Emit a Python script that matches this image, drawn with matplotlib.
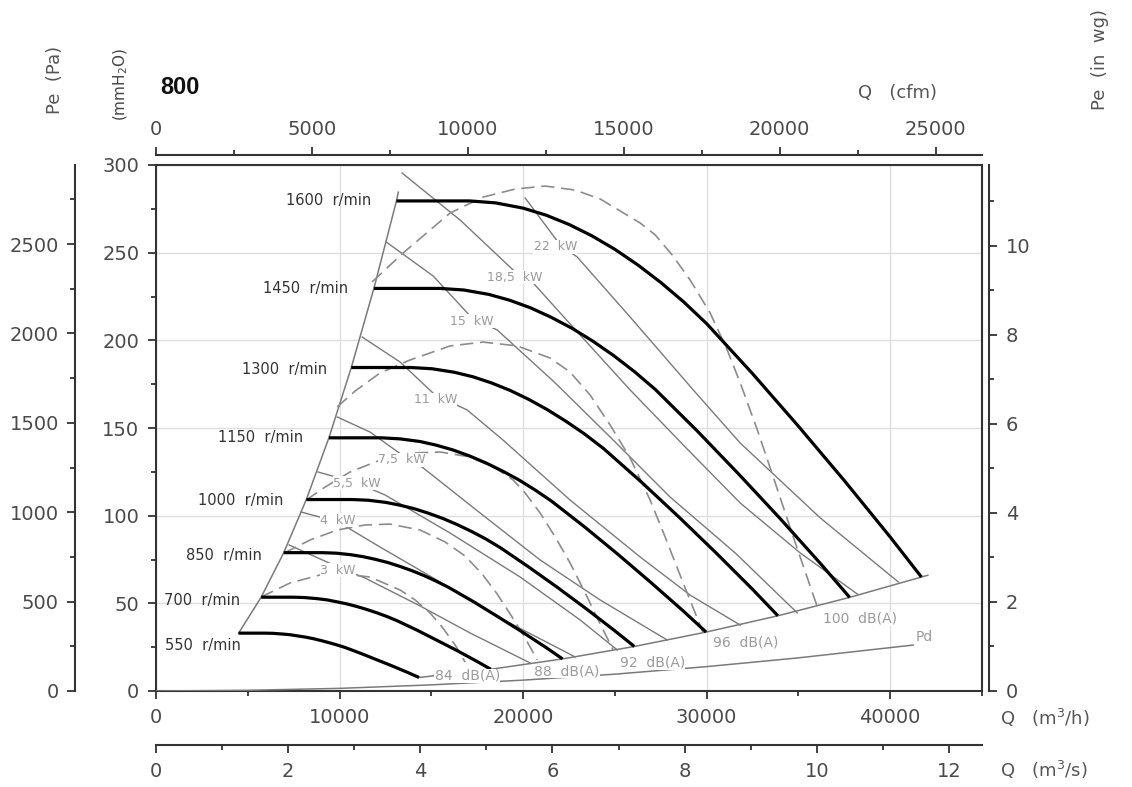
import numpy as np
import matplotlib
matplotlib.use("Agg")
import matplotlib.pyplot as plt
from matplotlib.ticker import MultipleLocator

# ---- fan curves: Q (m3/h) vs Pe (mmH2O), one pair per speed ----
q1600 = [13100, 17100, 18500, 20000, 21250, 22500, 23750, 25000, 26250, 27500, 28750, 30000, 32500, 35000, 37500, 40000, 41700]
p1600 = [279.5, 279.5, 278.4, 275.4, 271.4, 266.1, 259.6, 251.9, 243.0, 233.0, 221.9, 209.5, 181.0, 151.0, 120.0, 87.8, 65.0]
q1450 = [11870, 15500, 16770, 18130, 19260, 20390, 21520, 22660, 23790, 24920, 26060, 27190, 29450, 31720, 33980, 36250, 37790]
p1450 = [229.6, 229.6, 228.7, 226.2, 222.9, 218.6, 213.2, 206.9, 199.6, 191.4, 182.2, 172.1, 148.7, 124.0, 98.6, 72.1, 53.4]
q1300 = [10640, 13890, 15030, 16250, 17270, 18280, 19300, 20310, 21330, 22340, 23360, 24380, 26410, 28440, 30470, 32500, 33880]
p1300 = [184.5, 184.5, 183.8, 181.8, 179.2, 175.7, 171.4, 166.3, 160.4, 153.8, 146.5, 138.3, 119.5, 99.7, 79.2, 58.0, 42.9]
q1150 = [9420, 12290, 13300, 14380, 15270, 16170, 17070, 17970, 18870, 19770, 20660, 21560, 23360, 25160, 26950, 28750, 29970]
p1150 = [144.4, 144.4, 143.8, 142.3, 140.2, 137.5, 134.1, 130.1, 125.5, 120.4, 114.6, 108.2, 93.5, 78.0, 62.0, 45.4, 33.6]
q1000 = [8190, 10690, 11560, 12500, 13280, 14060, 14840, 15630, 16410, 17190, 17970, 18750, 20310, 21880, 23440, 25000, 26060]
p1000 = [109.2, 109.2, 108.8, 107.6, 106.0, 104.0, 101.4, 98.4, 94.9, 91.0, 86.7, 81.8, 70.7, 59.0, 46.9, 34.3, 25.4]
q850 = [6960, 9080, 9830, 10630, 11290, 11950, 12620, 13280, 13950, 14610, 15270, 15940, 17270, 18590, 19920, 21250, 22150]
p850 = [78.9, 78.9, 78.6, 77.7, 76.6, 75.1, 73.3, 71.1, 68.6, 65.8, 62.6, 59.1, 51.1, 42.6, 33.9, 24.8, 18.3]
q700 = [5730, 7480, 8090, 8750, 9300, 9840, 10390, 10940, 11480, 12030, 12580, 13130, 14220, 15310, 16410, 17500, 18240]
p700 = [53.5, 53.5, 53.3, 52.7, 52.0, 50.9, 49.7, 48.2, 46.5, 44.6, 42.5, 40.1, 34.7, 28.9, 23.0, 16.8, 12.4]
q550 = [4500, 5880, 6360, 6880, 7300, 7730, 8160, 8590, 9020, 9450, 9880, 10310, 11170, 12030, 12890, 13750, 14330]
p550 = [33.0, 33.0, 32.9, 32.5, 32.1, 31.4, 30.7, 29.8, 28.7, 27.5, 26.2, 24.8, 21.4, 17.8, 14.2, 10.4, 7.7]

rpm = [1600, 1450, 1300, 1150, 1000, 850, 700, 550]
rpm_lab_q = [11720, 10460, 9320, 8010, 6920, 5780, 4580, 4630]
rpm_lab_p = [279.5, 229.3, 183.6, 144.3, 108.9, 77.0, 51.9, 26.2]

# limits of the working area
left_q = [4500, 5730, 6960, 8190, 9420, 10640, 11870, 13100, 13200]
left_p = [33.0, 53.5, 78.9, 109.2, 144.4, 184.5, 229.6, 279.5, 284.5]
sys_q = [14330, 18240, 22150, 26060, 29970, 33880, 37790, 41700, 42050]
sys_p = [7.7, 12.4, 18.3, 25.4, 33.6, 42.9, 53.4, 65.0, 66.0]

# dynamic pressure
pd_q = [0, 5000, 10000, 15000, 20000, 25000, 30000, 35000, 41250]
pd_p = [0, 0.4, 1.5, 3.5, 6.2, 9.6, 13.9, 18.9, 26.2]

# motor power lines
kw3_q = [7250, 9920, 11390, 14390, 17110, 20380]
kw3_p = [83.3, 70.7, 64.4, 48.5, 33.1, 16.0]
kw4_q = [7900, 9920, 12210, 15480, 18750, 22840]
kw4_p = [102.1, 96.4, 82.1, 62.2, 41.6, 19.4]
kw55_q = [8830, 10960, 12480, 16020, 19840, 23110, 25130]
kw55_p = [124.9, 118.6, 111.8, 90.1, 65.0, 40.5, 23.4]
kw75_q = [9870, 11660, 13410, 14500, 17660, 20930, 24200, 27850]
kw75_p = [156.3, 147.7, 134.6, 127.7, 101.5, 74.7, 51.9, 29.1]
kw11_q = [11230, 13300, 15210, 16950, 18910, 22560, 26380, 29100, 31830]
kw11_p = [201.9, 187.6, 168.8, 160.3, 143.1, 108.9, 76.4, 54.7, 37.6]
kw15_q = [12540, 15100, 17220, 18590, 21750, 24910, 28010, 31560, 34940]
kw15_p = [256.1, 236.7, 212.7, 205.9, 175.7, 143.1, 110.6, 78.7, 44.5]
kw185_q = [13410, 16570, 19570, 20550, 23110, 25830, 28830, 31830, 35100, 38210]
kw185_p = [295.4, 268.6, 239.0, 232.7, 203.0, 171.7, 139.2, 107.2, 78.7, 55.3]
kw22_q = [20110, 22020, 22950, 25830, 29270, 31830, 36190, 40440]
kw22_p = [281.2, 254.4, 247.5, 213.3, 171.7, 141.4, 98.7, 62.2]

kw_labels = ['3  kW', '4  kW', '5,5  kW', '7,5  kW', '11  kW', '15  kW', '18,5  kW', '22  kW']
kw_lab_q = [9920, 9920, 10960, 13410, 15210, 17220, 19570, 21750]
kw_lab_p = [69.0, 97.5, 118.6, 131.8, 166.0, 211.0, 236.1, 253.3]

# noise lines
db84_q = [5720, 7300, 8940, 10300, 11660, 13300, 14120, 14930, 15590, 16300, 16840]
db84_p = [53.6, 61.6, 66.2, 66.7, 65.0, 57.6, 51.9, 44.5, 36.5, 26.2, 16.5]
db88_q = [6980, 8390, 9870, 11390, 12750, 14390, 15750, 16840, 17770, 18590, 19400, 20110, 20770]
db88_p = [78.7, 86.1, 91.8, 94.7, 95.2, 91.8, 85.0, 77.0, 66.7, 55.3, 42.2, 30.2, 17.7]
db92_q = [8180, 9210, 10570, 12210, 13840, 15480, 17110, 18480, 19460, 20110, 20930, 21750, 22560, 23490, 24200, 24910]
db92_p = [108.9, 116.3, 124.9, 131.7, 135.7, 136.3, 133.5, 127.2, 120.3, 112.9, 101.5, 87.8, 73.0, 53.6, 38.2, 23.4]
db96_q = [9870, 10850, 12210, 13840, 16020, 17820, 19680, 21470, 22560, 23650, 24740, 25830, 26920, 27740, 28720, 29810]
db96_p = [162.0, 171.1, 181.4, 188.8, 196.8, 199.0, 196.8, 189.9, 181.9, 168.8, 151.7, 132.9, 108.9, 87.8, 61.6, 33.1]
db100_q = [11770, 13460, 16020, 17820, 19570, 21200, 22840, 24200, 26380, 27200, 28120, 29100, 30190,
           31120, 31830, 32760, 33630, 34720, 36030]
db100_p = [233.3, 249.8, 272.6, 281.7, 286.3, 288.0, 285.7, 280.6, 266.9, 260.1, 248.7, 234.4, 215.6,
           194.5, 175.7, 148.9, 122.0, 87.8, 47.9]

db_labels = ['84  dB(A)', '88  dB(A)', '92  dB(A)', '96  dB(A)', '100  dB(A)', 'Pd']
db_lab_q = [16950, 22400, 27030, 32100, 38370, 41860]
db_lab_p = [8.6, 11.4, 16.0, 27.4, 41.1, 30.8]

W, H = 1132, 787
fig = plt.figure(figsize=(W / 100, H / 100), dpi=100)
ax = fig.add_axes([156 / W, 96 / H, 826 / W, 526 / H])

axc = '#333333'
thin = '#7a7a7a'
txtc = '#4a4a4a'

speeds = [(q1600, p1600), (q1450, p1450), (q1300, p1300), (q1150, p1150),
          (q1000, p1000), (q850, p850), (q700, p700), (q550, p550)]
for q, p in speeds:
    ax.plot(q, p, color='black', lw=2.3, solid_capstyle='butt', solid_joinstyle='round', zorder=4)

ax.plot(left_q, left_p, color=thin, lw=1.1, zorder=3)
ax.plot(sys_q, sys_p, color=thin, lw=1.1, zorder=3)
ax.plot(pd_q, pd_p, color=thin, lw=1.1, zorder=3)

for q, p in [(kw3_q, kw3_p), (kw4_q, kw4_p), (kw55_q, kw55_p), (kw75_q, kw75_p),
             (kw11_q, kw11_p), (kw15_q, kw15_p), (kw185_q, kw185_p), (kw22_q, kw22_p)]:
    ax.plot(q, p, color=thin, lw=1.0, zorder=3)

for q, p in [(db84_q, db84_p), (db88_q, db88_p), (db92_q, db92_p),
             (db96_q, db96_p), (db100_q, db100_p)]:
    ax.plot(q, p, color='#8c8c8c', lw=1.2, dashes=(8, 4), zorder=3)

bb = dict(facecolor='white', edgecolor='none', pad=0.3)
for n, xq, yp in zip(rpm, rpm_lab_q, rpm_lab_p):
    ax.text(xq, yp, f'{n}  r/min', ha='right', va='center', fontsize=10.5, color='#333333', zorder=6)
for s, xq, yp in zip(kw_labels, kw_lab_q, kw_lab_p):
    ax.text(xq, yp, s, ha='center', va='center', fontsize=9, color='#9a9a9a', bbox=bb, zorder=6)
for s, xq, yp in zip(db_labels, db_lab_q, db_lab_p):
    ax.text(xq, yp, s, ha='center', va='center', fontsize=10, color='#9a9a9a', bbox=bb, zorder=6)

# main axes: m3/h and mmH2O
ax.set_xlim(0, 45000)
ax.set_ylim(0, 300)
ax.xaxis.set_major_locator(MultipleLocator(10000))
ax.xaxis.set_minor_locator(MultipleLocator(5000))
ax.yaxis.set_major_locator(MultipleLocator(50))
ax.yaxis.set_minor_locator(MultipleLocator(25))
ax.grid(True, which='major', color='#dedede', lw=1.0)
ax.set_axisbelow(True)
for sp in ax.spines.values():
    sp.set_color(axc)
    sp.set_linewidth(1.5)

tick_kw = dict(direction='out', colors=axc, labelcolor=txtc, labelsize=14, width=1.3)


def style(a, axis):
    a.tick_params(axis=axis, which='major', length=6, pad=6, **tick_kw)
    a.tick_params(axis=axis, which='minor', length=3.5, width=1.3, colors=axc, direction='out')


style(ax, 'both')
ax.tick_params(top=False, right=False, which='both')

# Pa axis (outer left)
ax_pa = ax.twinx()
ax_pa.set_ylim(0, 300 * 9.80665)
ax_pa.yaxis.set_ticks_position('left')
ax_pa.yaxis.set_label_position('left')
for k, sp in ax_pa.spines.items():
    sp.set_visible(k == 'left')
ax_pa.spines['left'].set_position(('outward', 58))
ax_pa.spines['left'].set_color(axc)
ax_pa.spines['left'].set_linewidth(1.5)
ax_pa.yaxis.set_major_locator(MultipleLocator(500))
ax_pa.yaxis.set_minor_locator(MultipleLocator(250))
style(ax_pa, 'y')

# in wg axis (right)
ax_wg = ax.twinx()
ax_wg.set_ylim(0, 300 / 25.4)
for k, sp in ax_wg.spines.items():
    sp.set_visible(k == 'right')
ax_wg.spines['right'].set_position(('outward', 5))
ax_wg.spines['right'].set_color(axc)
ax_wg.spines['right'].set_linewidth(1.5)
ax_wg.yaxis.set_major_locator(MultipleLocator(2))
ax_wg.yaxis.set_minor_locator(MultipleLocator(1))
style(ax_wg, 'y')

# cfm axis (top)
ax_cfm = ax.twiny()
ax_cfm.set_xlim(0, 45000 / 1.69901)
for k, sp in ax_cfm.spines.items():
    sp.set_visible(k == 'top')
ax_cfm.spines['top'].set_position(('outward', 7))
ax_cfm.spines['top'].set_color(axc)
ax_cfm.spines['top'].set_linewidth(1.5)
ax_cfm.xaxis.set_major_locator(MultipleLocator(5000))
ax_cfm.xaxis.set_minor_locator(MultipleLocator(2500))
style(ax_cfm, 'x')

# m3/s axis (lower bottom)
ax_s = ax.twiny()
ax_s.set_xlim(0, 45000 / 3600)
ax_s.xaxis.set_ticks_position('bottom')
ax_s.xaxis.set_label_position('bottom')
for k, sp in ax_s.spines.items():
    sp.set_visible(k == 'bottom')
ax_s.spines['bottom'].set_position(('outward', 39))
ax_s.spines['bottom'].set_color(axc)
ax_s.spines['bottom'].set_linewidth(1.5)
ax_s.xaxis.set_major_locator(MultipleLocator(2))
ax_s.xaxis.set_minor_locator(MultipleLocator(1))
style(ax_s, 'x')


def px(x, y):
    return x / W, 1 - y / H


lab = dict(fontsize=13, color='#555555')
fig.text(*px(55, 80), 'Pe  (Pa)', rotation=90, ha='center', va='center', **lab)
fig.text(*px(121, 84), '(mmH$_2$O)', rotation=90, ha='center', va='center', fontsize=11, color='#444444')
fig.text(*px(160, 87), '800', ha='left', va='center', fontsize=17, fontweight='bold',
         family='Liberation Sans', color='#111111')
fig.text(*px(858, 93), 'Q   (cfm)', ha='left', va='center', **lab)
fig.text(*px(1100, 60), 'Pe  (in  wg)', rotation=90, ha='center', va='center', **lab)
fig.text(*px(1000, 718), 'Q   (m$^3$/h)', ha='left', va='center', **lab)
fig.text(*px(1000, 770), 'Q   (m$^3$/s)', ha='left', va='center', **lab)

fig.savefig('out.png', dpi=100)
